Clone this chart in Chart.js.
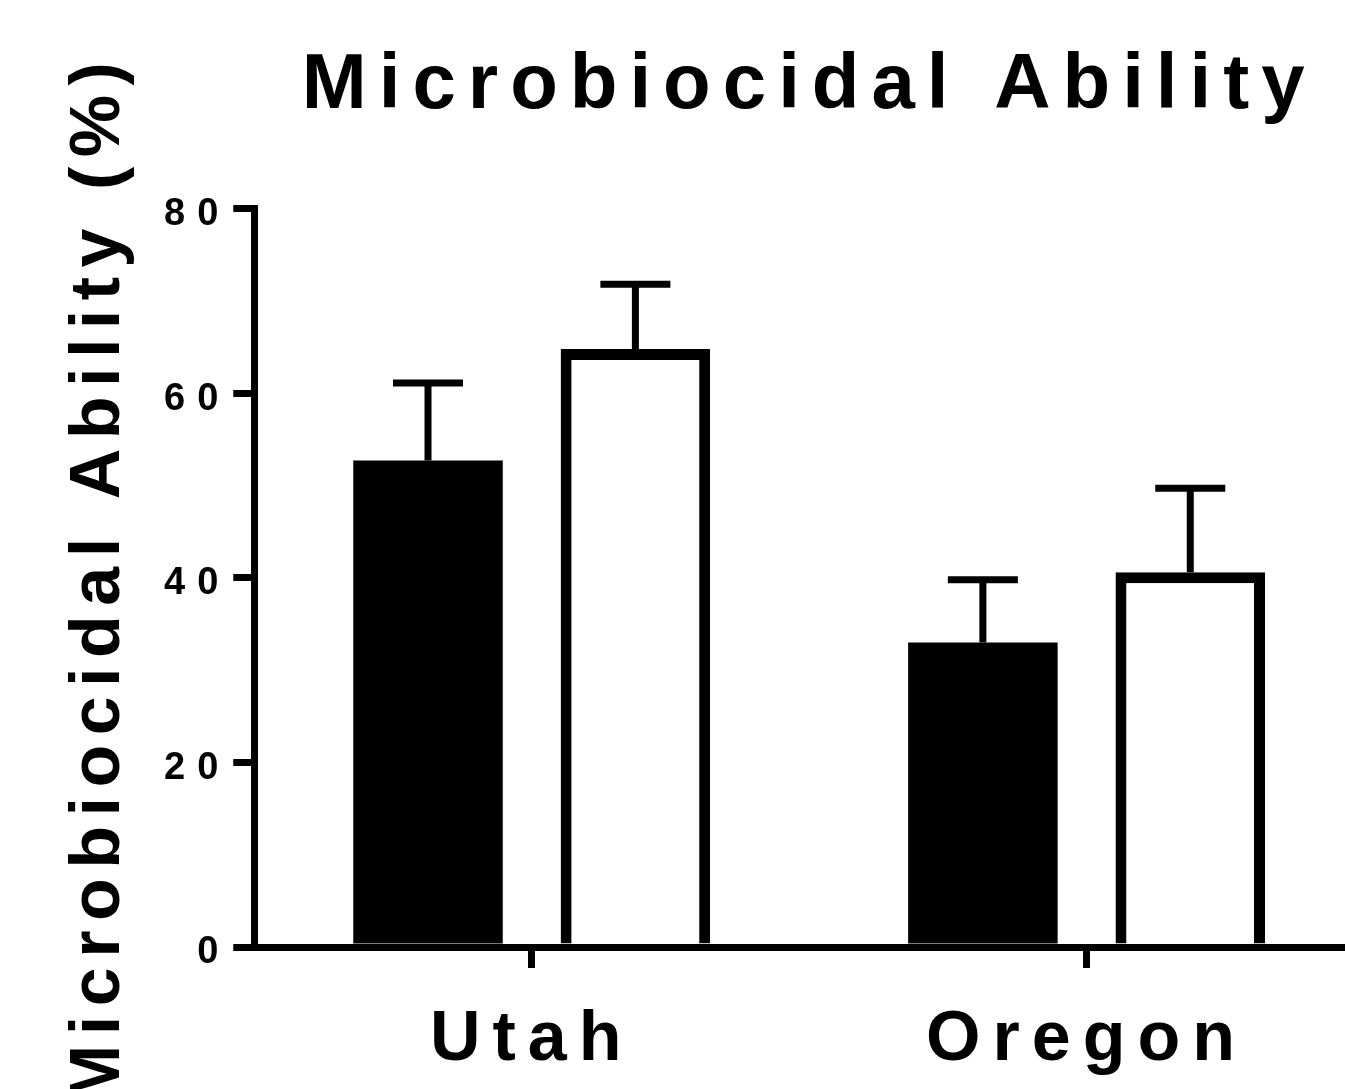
<!DOCTYPE html>
<html>
<head>
<meta charset="utf-8">
<script src="https://cdn.jsdelivr.net/npm/chart.js@4/dist/chart.umd.min.js"></script>
<style>
html, body { margin: 0; padding: 0; overflow: hidden; background: #fff; }
</style>
</head>
<body>
<canvas id="chart" width="1368" height="1118"></canvas>
<script>
// data
var categories = ['Utah', 'Oregon'];
var filledValues = [52.7, 33.0];
var filledErrors = [8.4, 6.8];
var openValues = [64.8, 40.6];
var openErrors = [7.0, 9.1];
var yTicks = [0, 20, 40, 60, 80];

Chart.defaults.font.family = "'Liberation Sans', Arial, sans-serif";
Chart.defaults.font.weight = 'bold';
Chart.defaults.color = '#000';

// letter spaced text like the original figure
var spacing = {
	id: 'spacing',
	beforeLayout: function(chart) { chart.ctx.letterSpacing = '12px'; },
	beforeDraw: function(chart) {
		chart.ctx.letterSpacing = '12px';
		var ys = chart.scales.y;
		if (!ys._patched) {
			var orig = ys.drawTitle;
			ys.drawTitle = function() {
				var c = this.ctx, old = c.letterSpacing;
				c.letterSpacing = '9.5px';
				orig.apply(this, arguments);
				c.letterSpacing = old;
			};
			ys._patched = true;
		}
	}
};

// error bars (upper only)
var errorBars = {
	id: 'errorBars',
	afterDatasetsDraw: function(chart) {
		var ctx = chart.ctx, y = chart.scales.y;
		ctx.save();
		ctx.strokeStyle = '#000';
		ctx.lineWidth = 7;
		ctx.lineCap = 'butt';
		chart.data.datasets.forEach(function(ds, i) {
			var meta = chart.getDatasetMeta(i);
			meta.data.forEach(function(bar, j) {
				var top = y.getPixelForValue(ds.data[j] + ds.err[j]);
				ctx.beginPath();
				ctx.moveTo(bar.x, bar.y);
				ctx.lineTo(bar.x, top);
				ctx.moveTo(bar.x - 35, top);
				ctx.lineTo(bar.x + 35, top);
				ctx.stroke();
			});
		});
		ctx.restore();
	}
};

var ctx = document.getElementById('chart').getContext('2d');
var chart = new Chart(ctx, {
	type: 'bar',
	data: {
		labels: categories,
		datasets: [
			{
				label: 'filled',
				data: filledValues,
				err: filledErrors,
				backgroundColor: '#000',
				borderWidth: 0,
				categoryPercentage: 0.7475,
				barPercentage: 0.721
			},
			{
				label: 'open',
				data: openValues,
				err: openErrors,
				backgroundColor: '#fff',
				borderColor: '#000',
				borderWidth: 11,
				categoryPercentage: 0.7475,
				barPercentage: 0.721
			}
		]
	},
	options: {
		responsive: false,
		animation: false,
		layout: { padding: { left: 0, right: 4, top: 0, bottom: 4 } },
		plugins: {
			legend: { display: false },
			tooltip: { enabled: false },
			title: {
				display: true,
				text: 'Microbiocidal Ability',
				fullSize: false,
				color: '#000',
				font: { size: 78, weight: 'bold' },
				padding: { top: 40, bottom: 75 }
			}
		},
		scales: {
			x: {
				offset: true,
				grid: {
					display: true,
					drawOnChartArea: false,
					offset: false,
					tickLength: 21,
					tickWidth: 7,
					tickColor: '#000',
					lineWidth: 7,
					color: '#000'
				},
				border: { display: true, width: 7, color: '#000', z: 1 },
				ticks: { font: { size: 70, weight: 'bold' }, padding: 31, color: '#000' }
			},
			y: {
				min: 0,
				max: 80,
				afterBuildTicks: function(s) {
					s.ticks = yTicks.map(function(v) { return { value: v }; });
				},
				grid: {
					display: true,
					drawOnChartArea: false,
					tickLength: 21,
					tickWidth: 7,
					tickColor: '#000',
					lineWidth: 7,
					color: '#000'
				},
				border: { display: true, width: 7, color: '#000', z: 1 },
				ticks: { font: { size: 38, weight: 'bold' }, padding: 3, labelOffset: 6, color: '#000' },
				title: {
					display: true,
					text: 'Microbiocidal Ability (%)',
					color: '#000',
					font: { size: 70, weight: 'bold' },
					padding: { top: 58, bottom: 19 }
				}
			}
		}
	},
	plugins: [spacing, errorBars]
});
</script>
</body>
</html>
